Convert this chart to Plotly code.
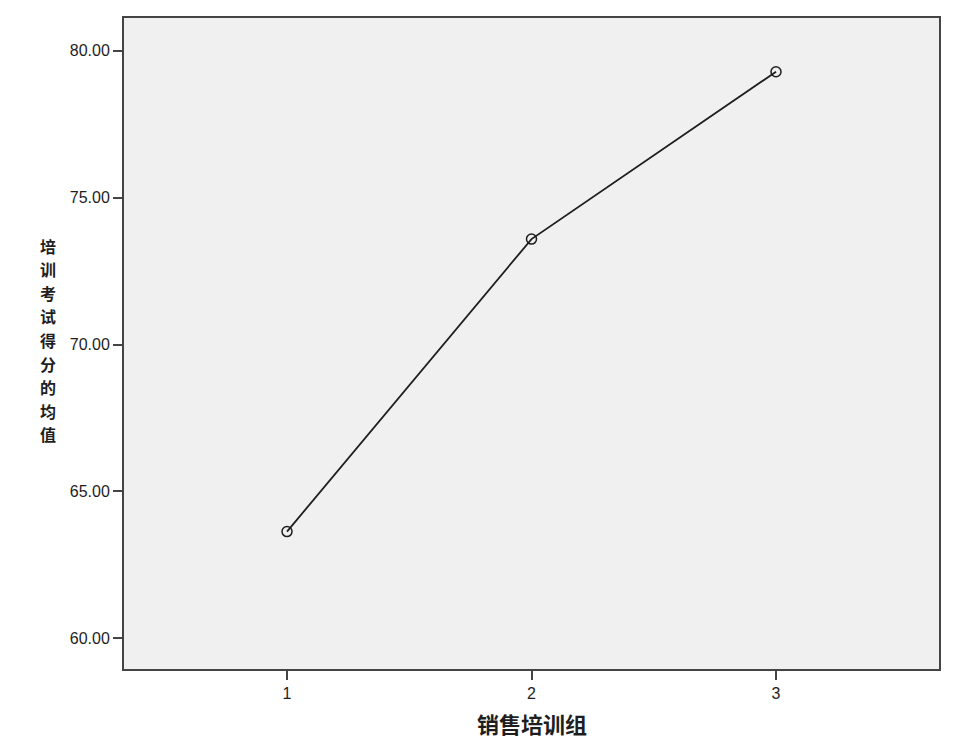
import plotly.graph_objects as go

groups = [1, 2, 3]
means = [63.63, 73.59, 79.29]
y_ticks = [60, 65, 70, 75, 80]
y_tick_labels = ["60.00", "65.00", "70.00", "75.00", "80.00"]
x_title = "销售培训组"
y_title = "培训考试得分的均值"

# page body has an 8px default margin; size the figure to compensate
W, H = 964, 730
L, R, T, B = 116, 33, 8, 69

fig = go.Figure()
fig.add_trace(go.Scatter(
    x=groups, y=means, mode="lines+markers",
    line=dict(color="#1e1e1e", width=1.8),
    marker=dict(symbol="circle-open", size=10, color="#1e1e1e", line=dict(width=1.5)),
    showlegend=False,
))

fig.update_layout(
    width=W, height=H,
    margin=dict(l=L, r=R, t=T, b=B),
    paper_bgcolor="white", plot_bgcolor="#F0F0F0",
    font=dict(family="Liberation Sans, Arial, sans-serif", size=16, color="#1e1e1e"),
    xaxis=dict(
        range=[1/3, 11/3], tickvals=groups, ticktext=[str(g) for g in groups],
        showgrid=False, zeroline=False, showline=True, mirror=True,
        linecolor="#444444", linewidth=2, ticks="outside", ticklen=9,
        tickcolor="#444444", tickwidth=2,
    ),
    yaxis=dict(
        range=[58.95, 81.12], tickvals=y_ticks, ticktext=y_tick_labels,
        showgrid=False, zeroline=False, showline=True, mirror=True,
        linecolor="#444444", linewidth=2, ticks="outside", ticklen=9,
        tickcolor="#444444", tickwidth=2,
    ),
)

plot_h = H - T - B
fig.add_annotation(
    text="<b>" + x_title + "</b>", xref="paper", yref="paper", x=0.5, y=0, yshift=-54,
    showarrow=False, yanchor="middle",
    font=dict(family="Noto Sans CJK SC", size=22, color="#1e1e1e"),
)
# vertical stacked y-axis title, one character per annotation
n = len(y_title)
center_y_px = 339 - 8  # centre in figure coords
spacing = 23.6
for i, ch in enumerate(y_title):
    ypix = center_y_px + (i - (n - 1) / 2) * spacing  # from figure top
    yfrac = (H - B - ypix) / plot_h
    fig.add_annotation(
        text="<b>" + ch + "</b>", xref="paper", yref="paper",
        x=0, xshift=-(L - (48 - 8)), y=yfrac, showarrow=False,
        xanchor="center", yanchor="middle", borderpad=0,
        font=dict(family="Noto Sans CJK SC", size=16, color="#1e1e1e"),
    )

fig.write_html("out.html")
